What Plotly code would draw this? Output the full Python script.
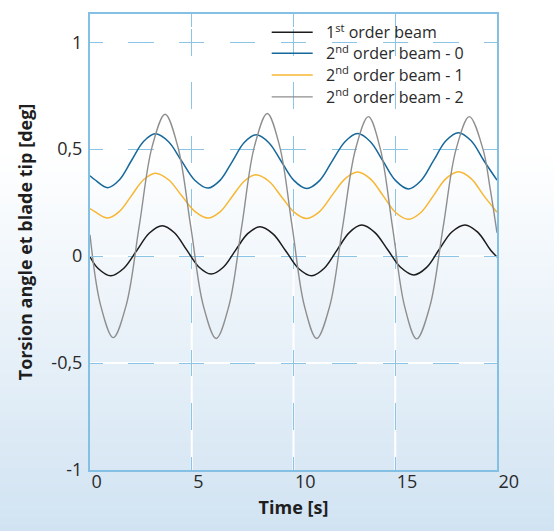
import base64
import struct
import zlib
import plotly.graph_objects as go

# ---------------- data ----------------
series_names = [
    "1<sup>st</sup> order beam",
    "2<sup>nd</sup> order beam - 0",
    "2<sup>nd</sup> order beam - 1",
    "2<sup>nd</sup> order beam - 2",
]

t_first = [0, 0.40, 1.02, 1.65, 2.29, 2.92, 3.55, 4.15, 4.75, 5.35, 5.95, 6.55, 7.15,
           7.75, 8.35, 8.99, 9.63, 10.26, 10.90, 11.51, 12.13, 12.74, 13.35, 13.99,
           14.63, 15.26, 15.92, 16.53, 17.15, 17.78, 18.43, 19.05, 19.68, 20.0]
v_first = [-0.003, -0.058, -0.092, -0.058, 0.025, 0.108, 0.142, 0.109, 0.029, -0.051,
           -0.084, -0.052, 0.027, 0.105, 0.137, 0.104, 0.023, -0.059, -0.092, -0.057,
           0.027, 0.110, 0.145, 0.111, 0.030, -0.052, -0.088, -0.054, 0.030, 0.113,
           0.146, 0.112, 0.029, -0.004]

t_second0 = [0, 0.24, 0.87, 1.45, 2.04, 2.63, 3.21, 3.86, 4.50, 5.15, 5.80, 6.39, 6.99,
             7.58, 8.17, 8.79, 9.41, 10.03, 10.65, 11.28, 11.90, 12.53, 13.15, 13.78,
             14.40, 15.02, 15.65, 16.26, 16.88, 17.49, 18.10, 18.73, 19.35, 20.0]
v_second0 = [0.376, 0.357, 0.320, 0.357, 0.447, 0.536, 0.572, 0.535, 0.445, 0.355,
             0.318, 0.354, 0.442, 0.531, 0.567, 0.530, 0.441, 0.353, 0.316, 0.353,
             0.444, 0.535, 0.573, 0.535, 0.444, 0.353, 0.314, 0.352, 0.446, 0.539,
             0.577, 0.539, 0.447, 0.355]

t_second1 = [0, 0.24, 0.87, 1.45, 2.04, 2.63, 3.21, 3.86, 4.50, 5.15, 5.80, 6.39, 6.99,
             7.58, 8.14, 8.79, 9.41, 10.03, 10.65, 11.28, 11.90, 12.53, 13.15, 13.78,
             14.40, 15.02, 15.65, 16.26, 16.88, 17.49, 18.11, 18.73, 19.35, 20.0]
v_second1 = [0.222, 0.208, 0.178, 0.209, 0.283, 0.357, 0.388, 0.357, 0.283, 0.209,
             0.178, 0.207, 0.279, 0.350, 0.380, 0.350, 0.278, 0.206, 0.176, 0.208,
             0.285, 0.361, 0.393, 0.361, 0.283, 0.204, 0.172, 0.204, 0.283, 0.362,
             0.394, 0.362, 0.283, 0.205]

t_second2 = [0, 0.52, 1.14, 1.78, 2.42, 3.05, 3.69, 4.32, 4.95, 5.57, 6.20, 6.83, 7.46,
             8.08, 8.71, 9.32, 9.93, 10.53, 11.14, 11.78, 12.41, 13.05, 13.68, 14.27,
             14.87, 15.46, 16.05, 16.70, 17.35, 17.99, 18.64, 19.31, 19.65, 20.0]
v_second2 = [0.100, -0.229, -0.381, -0.229, 0.141, 0.511, 0.663, 0.510, 0.139, -0.232,
             -0.385, -0.231, 0.141, 0.513, 0.667, 0.513, 0.141, -0.231, -0.385, -0.234,
             0.134, 0.501, 0.652, 0.500, 0.133, -0.235, -0.387, -0.235, 0.133, 0.500,
             0.652, 0.500, 0.324, 0.109]

x_tickvals = [0, 5, 10, 15, 20]
x_ticktext = ["0", "5", "10", "15", "20"]
y_tickvals = [-1, -0.5, 0, 0.5, 1]
y_ticktext = ["-1", "-0,5", "0", "0,5", "1"]

x_title = "Time [s]"
y_title = "Torsion angle et blade tip [deg]"

# ---------------- styling ----------------
W, H = 554, 531
ML, MR, MT, MB = 90, 57, 14, 61
PW, PH = W - ML - MR, H - MT - MB
X_RANGE = [0, 20]
Y_RANGE = [-1, 1.132]

colors = ["#1c1c1c", "#17689a", "#f7b733", "#8e8e8e"]
widths = [1.5, 1.5, 1.5, 1.4]
FRAME = "#84c0e4"
GRID = "#8cc4e6"
TEXT = "#2a2a2a"
FONT = "Open Sans"


def gradient_png(height, white_until, bottom_rgb):
    rows = []
    for yy in range(height):
        f = 0.0 if yy <= white_until else (yy - white_until) / (height - 1 - white_until)
        rows.append(bytes(round(255 + (c - 255) * f) for c in bottom_rgb))
    raw = b"".join(b"\x00" + r for r in rows)

    def chunk(tag, data):
        return (struct.pack(">I", len(data)) + tag + data
                + struct.pack(">I", zlib.crc32(tag + data) & 0xFFFFFFFF))

    png = (b"\x89PNG\r\n\x1a\n"
           + chunk(b"IHDR", struct.pack(">IIBBBBB", 1, height, 8, 2, 0, 0, 0))
           + chunk(b"IDAT", zlib.compress(raw))
           + chunk(b"IEND", b""))
    return "data:image/png;base64," + base64.b64encode(png).decode()


# dash patterns so that dashes are centred on grid crossings
px_per_x = PW / (X_RANGE[1] - X_RANGE[0])
px_per_y = PH / (Y_RANGE[1] - Y_RANGE[0])
hp = px_per_x * 2.5          # horizontal dash period
hd = hp / 2
h_dash = f"{hd/2:.2f}px,{hd:.2f}px,{hd/2:.2f}px,0px"
vp = px_per_y * 0.25         # vertical dash period
vd = vp / 2
first_center = (Y_RANGE[1] - 1) * px_per_y
lead = (first_center - vd / 2) % vp
v_dash = f"0px,{lead:.2f}px,{vd:.2f}px,{vp - vd - lead:.2f}px"

fig = go.Figure()
all_t = [t_first, t_second0, t_second1, t_second2]
all_v = [v_first, v_second0, v_second1, v_second2]
legend_ids = ["legend", "legend2", "legend3", "legend4"]
legend_rows_px = [32.3, 53.3, 75.0, 97.0]

for i in range(4):
    fig.add_trace(go.Scatter(
        x=all_t[i], y=all_v[i], mode="lines", name="  " + series_names[i],
        line=dict(color=colors[i], width=widths[i], shape="spline", smoothing=1.0),
        legend=legend_ids[i], hoverinfo="skip",
    ))

legend_x = (266.7 - ML) / PW
layout_legends = {}
for i, lid in enumerate(legend_ids):
    layout_legends[lid] = dict(
        x=legend_x, y=(MT + PH - legend_rows_px[i]) / PH,
        xanchor="left", yanchor="middle",
        bgcolor="rgba(0,0,0,0)", borderwidth=0,
        font=dict(family=FONT, size=16, color=TEXT),
        itemwidth=41,
    )

# white lines under the dashed grid
shapes = []
for xv in x_tickvals[1:-1]:
    shapes.append(dict(type="line", xref="x", yref="paper", x0=xv, x1=xv, y0=0, y1=1,
                       line=dict(color="white", width=2), layer="below"))
for yv in y_tickvals[1:]:
    shapes.append(dict(type="line", xref="paper", yref="y", x0=0, x1=1, y0=yv, y1=yv,
                       line=dict(color="white", width=2), layer="below"))

fig.update_layout(
    width=W, height=H,
    margin=dict(l=ML, r=MR, t=MT, b=MB, pad=0),
    paper_bgcolor="white",
    plot_bgcolor="rgba(0,0,0,0)",
    font=dict(family=FONT, color=TEXT),
    showlegend=True,
    shapes=shapes,
    images=[dict(
        source=gradient_png(H, 150, (209, 227, 242)),
        xref="paper", yref="paper",
        x=-ML / PW, y=1 + MT / PH, sizex=W / PW, sizey=H / PH,
        xanchor="left", yanchor="top", sizing="stretch", layer="below",
    )],
    **layout_legends,
)

fig.update_xaxes(
    range=X_RANGE, tickmode="array", tickvals=x_tickvals, ticktext=x_ticktext,
    ticks="inside", ticklen=13, tickwidth=1, tickcolor=GRID,
    showline=True, linecolor=FRAME, linewidth=2, mirror="ticks",
    showgrid=True, gridcolor=GRID, gridwidth=1, griddash=v_dash,
    zeroline=False, ticklabelposition="outside right", ticklabelstandoff=-6,
    tickfont=dict(family=FONT, size=18, color=TEXT),
    title=dict(text=x_title, font=dict(family=FONT, size=18, color="#1e1e1e", weight=700),
               standoff=10),
)
fig.update_yaxes(
    range=Y_RANGE, tickmode="array", tickvals=y_tickvals, ticktext=y_ticktext,
    ticks="inside", ticklen=13, tickwidth=1, tickcolor=GRID,
    showline=True, linecolor=FRAME, linewidth=2, mirror="ticks",
    showgrid=True, gridcolor=GRID, gridwidth=1, griddash=h_dash,
    zeroline=False, ticklabelstandoff=2,
    tickfont=dict(family=FONT, size=18, color=TEXT),
    title=dict(text=y_title, font=dict(family=FONT, size=18, color="#1e1e1e", weight=700),
               standoff=14),
)

fig.write_html("out.html")
